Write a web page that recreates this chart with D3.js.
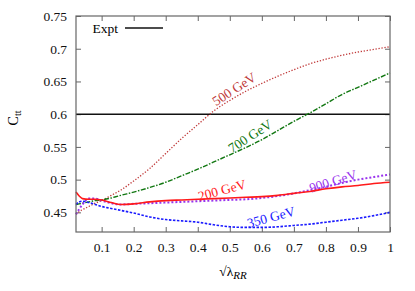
<!DOCTYPE html>
<html>
<head>
<meta charset="utf-8">
<script src="https://cdn.jsdelivr.net/npm/d3@7"></script>
<style>
  body { margin: 0; background: #fff; }
</style>
</head>
<body>
<div id="chart"></div>
<script>
// plot size and margins (gnuplot-ish frame)
var width = 415,
    height = 291;
var margin = {top: 16, right: 25, bottom: 59, left: 76};

// x values shared by all the curves
var lambda = [0.02, 0.03, 0.04, 0.06, 0.08, 0.1, 0.13, 0.16, 0.2, 0.25, 0.3, 0.35, 0.4, 0.45,
              0.5, 0.55, 0.6, 0.65, 0.7, 0.75, 0.8, 0.85, 0.9, 0.95, 1.0];

var c200 = [0.481, 0.475, 0.471, 0.470, 0.470, 0.469, 0.465, 0.462, 0.463, 0.466, 0.468, 0.469, 0.470, 0.471,
            0.472, 0.473, 0.474, 0.476, 0.479, 0.482, 0.486, 0.489, 0.491, 0.494, 0.496];
var c350 = [0.462, 0.466, 0.467, 0.465, 0.462, 0.459, 0.456, 0.453, 0.449, 0.443, 0.439, 0.437, 0.435, 0.431,
            0.428, 0.427, 0.427, 0.428, 0.430, 0.432, 0.435, 0.438, 0.441, 0.445, 0.450];
var c500 = [0.447, 0.451, 0.454, 0.459, 0.464, 0.468, 0.476, 0.484, 0.498, 0.517, 0.540, 0.563, 0.584, 0.605,
            0.621, 0.635, 0.647, 0.658, 0.668, 0.677, 0.684, 0.690, 0.695, 0.699, 0.703];
var c700 = [0.462, 0.463, 0.464, 0.466, 0.468, 0.469, 0.472, 0.476, 0.481, 0.488, 0.496, 0.506, 0.516, 0.527,
            0.538, 0.549, 0.561, 0.575, 0.589, 0.602, 0.616, 0.630, 0.641, 0.652, 0.663];
var c900 = [0.447, 0.455, 0.462, 0.471, 0.471, 0.468, 0.464, 0.462, 0.463, 0.464, 0.465, 0.466, 0.467, 0.468,
            0.469, 0.470, 0.472, 0.475, 0.479, 0.484, 0.489, 0.495, 0.500, 0.504, 0.508];

var expt = 0.6;

var xTicks = [0.1, 0.2, 0.3, 0.4, 0.5, 0.6, 0.7, 0.8, 0.9, 1];
var yTicks = [0.45, 0.5, 0.55, 0.6, 0.65, 0.7, 0.75];

var series = [
  {name: "500 GeV", values: c500, color: "#c03a3a", dash: "1.3,1.7", w: 1.3, lx: 234, ly: 89, rot: -33},
  {name: "700 GeV", values: c700, color: "#117711", dash: "5,1.5,1.5,1.5", w: 1.4, lx: 250, ly: 136, rot: -33},
  {name: "900 GeV", values: c900, color: "#9933ee", dash: "2,2", w: 2, lx: 333, ly: 181, rot: -17},
  {name: "200 GeV", values: c200, color: "#ff1a1a", dash: null, w: 1.6, lx: 222, ly: 190, rot: -15},
  {name: "350 GeV", values: c350, color: "#1a1aff", dash: "2.5,1.5", w: 1.6, lx: 271, ly: 217, rot: -15}
];

var serif = "'Liberation Serif', 'Times New Roman', serif";

var svg = d3.select("#chart")
  .append("svg")
  .attr("width", width)
  .attr("height", height)
  .style("font-family", serif);

var x = d3.scaleLinear()
  .domain([0.02, 1])
  .range([margin.left, width - margin.right]);

var y = d3.scaleLinear()
  .domain([0.42, 0.75])
  .range([height - margin.bottom, margin.top]);

var frameColor = "#666";

// ticks on all four sides, pointing inwards
svg.append("g")
  .attr("transform", "translate(0," + (height - margin.bottom) + ")")
  .call(d3.axisBottom(x).tickValues(xTicks).tickSize(-5).tickPadding(10)
        .tickFormat(function(d) { return d === 1 ? "1" : d3.format(".1f")(d); }));
svg.append("g")
  .attr("transform", "translate(0," + margin.top + ")")
  .call(d3.axisTop(x).tickValues(xTicks).tickSize(-5).tickFormat(""));
svg.append("g")
  .attr("transform", "translate(" + margin.left + ",0)")
  .call(d3.axisLeft(y).tickValues(yTicks).tickSize(-5).tickPadding(9)
        .tickFormat(function(d) { return String(+d.toFixed(2)); }));
svg.append("g")
  .attr("transform", "translate(" + (width - margin.right) + ",0)")
  .call(d3.axisRight(y).tickValues(yTicks).tickSize(-5).tickFormat(""));

svg.selectAll("g").attr("font-family", null).attr("font-size", 13.5);
svg.selectAll(".domain").remove();
svg.selectAll(".tick line").attr("stroke", frameColor);
svg.selectAll(".tick text").attr("fill", "#111");

// Expt line
svg.append("line")
  .attr("x1", x(0.02)).attr("x2", x(1))
  .attr("y1", y(expt)).attr("y2", y(expt))
  .attr("stroke", "#111")
  .attr("stroke-width", 1.5);

var line = d3.line()
  .x(function(d) { return x(d[0]); })
  .y(function(d) { return y(d[1]); })
  .curve(d3.curveMonotoneX);

series.forEach(function(s) {
  svg.append("path")
    .datum(lambda.map(function(l, i) { return [l, s.values[i]]; }))
    .attr("d", line)
    .attr("fill", "none")
    .attr("stroke", s.color)
    .attr("stroke-width", s.w)
    .attr("stroke-dasharray", s.dash);

  svg.append("text")
    .attr("transform", "translate(" + s.lx + "," + s.ly + ") rotate(" + s.rot + ")")
    .attr("text-anchor", "middle")
    .attr("dy", "0.35em")
    .attr("font-size", 13.5)
    .attr("fill", s.color)
    .text(s.name);
});

// frame
svg.append("rect")
  .attr("x", margin.left).attr("y", margin.top)
  .attr("width", width - margin.left - margin.right)
  .attr("height", height - margin.top - margin.bottom)
  .attr("fill", "none")
  .attr("stroke", frameColor)
  .attr("stroke-width", 1.2);

// legend
svg.append("text")
  .attr("x", 118).attr("y", 28)
  .attr("dy", "0.35em")
  .attr("text-anchor", "end")
  .attr("font-size", 13.5)
  .text("Expt");
svg.append("line")
  .attr("x1", 125).attr("x2", 163)
  .attr("y1", 28).attr("y2", 28)
  .attr("stroke", "#111")
  .attr("stroke-width", 1.5);

// axis labels
var xl = svg.append("text")
  .attr("x", 233).attr("y", 276)
  .attr("text-anchor", "middle")
  .attr("font-size", 13.5);
xl.append("tspan").text("\u221A\u03BB");
xl.append("tspan").attr("dy", 3).attr("font-style", "italic").attr("font-size", 11).text("RR");

var yl = svg.append("text")
  .attr("transform", "translate(18,118) rotate(-90)")
  .attr("text-anchor", "middle")
  .attr("font-size", 14);
yl.append("tspan").text("C");
yl.append("tspan").attr("dy", 3).attr("font-size", 10).text("tt");
</script>
</body>
</html>
